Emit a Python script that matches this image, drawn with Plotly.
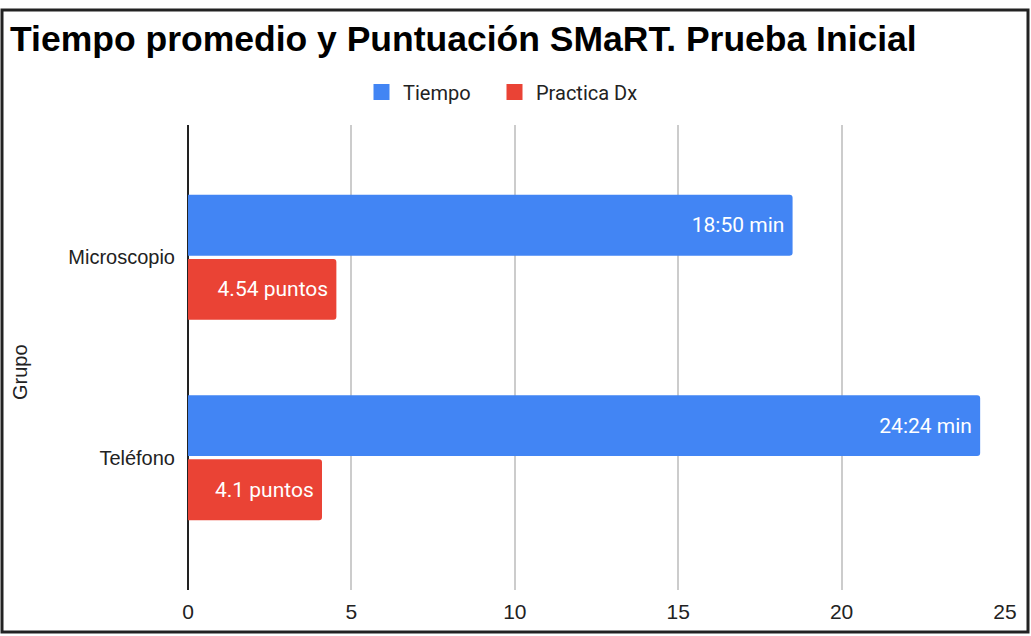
import plotly.graph_objects as go

categories = ["Microscopio", "Teléfono"]
tiempo_values = [18.50, 24.24]
tiempo_labels = ["18:50 min", "24:24 min"]
practica_values = [4.54, 4.10]
practica_labels = ["4.54 puntos", "4.1 puntos"]
x_ticks = [0, 5, 10, 15, 20, 25]
series_names = ["Tiempo", "Practica Dx"]
series_colors = ["#4285F4", "#EA4335"]
title_text = "Tiempo promedio y Puntuación SMaRT. Prueba Inicial"
y_title = "Grupo"

W, H = 1031, 636
L, R, T, B = 188, 26, 125, 46
pw = W - L - R
ph = H - T - B

def px_x(x):
    return (x - L) / pw

def px_y(y):
    return (H - B - y) / ph

fig = go.Figure()
for vals, labels, name, color in [(tiempo_values, tiempo_labels, series_names[0], series_colors[0]),
                                  (practica_values, practica_labels, series_names[1], series_colors[1])]:
    fig.add_trace(go.Bar(
        name=name, y=categories, x=vals, orientation="h",
        marker=dict(color=color, line=dict(width=0)),
        text=labels, texttemplate="%{text}\u00a0", textposition="inside", insidetextanchor="end",
        textfont=dict(family="Roboto", size=21, color="white"),
        showlegend=False, legendgroup=name, hoverinfo="skip",
    ))
# legend entries (larger square markers), one legend per series for spacing
for name, color, lg in zip(series_names, series_colors, ["legend", "legend2"]):
    fig.add_trace(go.Scatter(
        x=[None], y=[None], mode="markers", name=name, legendgroup=name, legend=lg,
        marker=dict(symbol="square", size=18, color=color),
    ))

legend_common = dict(orientation="h", xanchor="left", y=px_y(92), yanchor="middle",
                     font=dict(family="Roboto", size=20, color="#222222"), itemwidth=33,
                     bgcolor="rgba(0,0,0,0)")

fig.update_layout(
    width=W, height=H,
    margin=dict(l=L, r=R, t=T, b=B),
    paper_bgcolor="white", plot_bgcolor="white",
    barmode="group", bargap=0.36, bargroupgap=0.05, barcornerradius=3,
    uniformtext=dict(minsize=21, mode="show"),
    font=dict(family="Liberation Sans, Arial", color="#222222"),
    title=dict(text="<b>" + title_text + "</b>", x=10 / W, xanchor="left", xref="container",
               y=1 - 39 / H, yanchor="middle", yref="container",
               font=dict(family="Liberation Sans, Arial", size=35.5, color="black")),
    legend=dict(x=px_x(360), **legend_common),
    legend2=dict(x=px_x(493), **legend_common),
    showlegend=True,
    xaxis=dict(range=[0, 25], tickvals=x_ticks, showgrid=True, gridcolor="#cccccc", gridwidth=1.5,
               zeroline=True, zerolinecolor="#222222", zerolinewidth=1.5,
               tickfont=dict(family="Liberation Sans, Arial", size=21, color="#222222"),
               ticklabelstandoff=7, showline=False, fixedrange=True),
    yaxis=dict(range=[1.66, -0.66], showgrid=False, zeroline=False, showline=False,
               tickfont=dict(family="Liberation Sans, Arial", size=20, color="#222222"),
               ticklabelstandoff=12, fixedrange=True),
)

fig.add_annotation(text=y_title, xref="paper", yref="paper", x=px_x(20), y=px_y(372),
                   textangle=-90, showarrow=False, xanchor="center", yanchor="middle",
                   font=dict(family="Liberation Sans, Arial", size=20, color="#222222"))

fig.add_shape(type="rect", xref="paper", yref="paper",
              x0=px_x(2), x1=px_x(1028), y0=px_y(632), y1=px_y(10),
              line=dict(color="#222222", width=3), fillcolor="rgba(0,0,0,0)", layer="above")

fig.write_html("out.html", config={"displayModeBar": False},
               post_script="document.body.style.margin='0';document.body.style.padding='0';")
